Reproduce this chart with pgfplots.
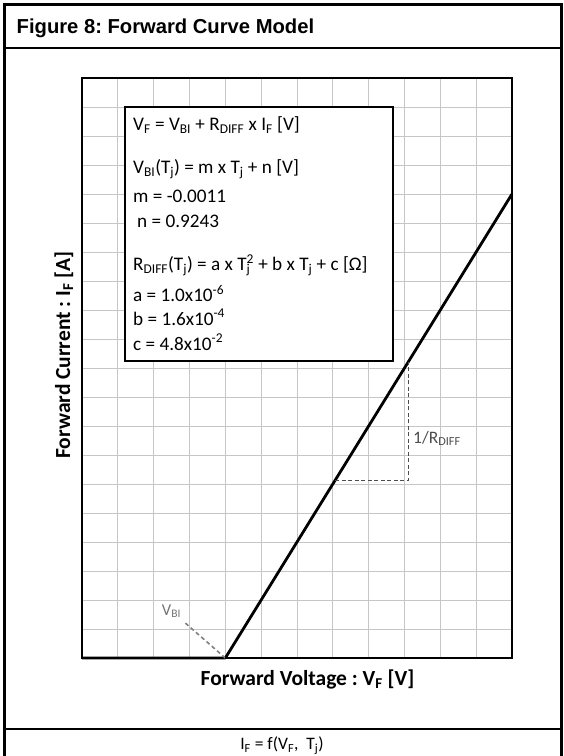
\documentclass[border=0pt]{standalone}
\usepackage{fontspec}
\setmainfont{Carlito}
\newfontfamily\titlefont{Liberation Sans}
\usepackage{pgfplots}
\pgfplotsset{compat=1.18}

\definecolor{gridgray}{HTML}{C6C6C6}
\definecolor{annot}{HTML}{4D4D4D}
\definecolor{vbigray}{HTML}{808080}
\newcommand{\sub}[1]{\textsubscript{#1}}
\newcommand{\sups}[1]{\textsuperscript{#1}}
\frenchspacing

\begin{document}
\begin{tikzpicture}
% page is 564 x 756 (1pt = 1px of the reference), y runs downwards in the scopes
\useasboundingbox (0pt,0pt) rectangle (564pt,-756pt);

\begin{axis}[
  at={(82pt,-658pt)}, anchor=south west,
  scale only axis, width=430pt, height=580pt,
  xmin=0, xmax=12, ymin=0, ymax=20,
  xtick={0,...,12}, ytick={0,...,20},
  xticklabels={}, yticklabels={},
  major tick length=0pt,
  grid=major, grid style={gridgray, line width=0.8pt},
  axis line style={black, line width=1.1pt},
  clip=false,
]
% forward curve: zero below V_BI, then linear with slope 1/R_DIFF
\addplot[black, line width=2.8pt, line join=round] coordinates {(0,0) (4,0) (12,16)};
% slope triangle
\addplot[annot, line width=0.9pt, dash pattern=on 4pt off 2.5pt] coordinates {(7.07,6.13) (9.11,6.13) (9.11,10.22)};
% V_BI marker
\addplot[vbigray, line width=1.6pt, dash pattern=on 4pt off 3pt] coordinates {(4,0) (2.87,1.22)};
\draw[black, line width=2pt] (axis cs:4,0) -- (axis cs:12,0);
\end{axis}

\begin{scope}[x=1pt,y=-1pt]
% frame
\draw[line width=2.5pt] (4.5,770) -- (4.5,4.5) -- (561.5,4.5) -- (561.5,770);
\draw[line width=2pt] (4.5,47.7) -- (561.5,47.7);
\draw[line width=2pt] (4.5,728.5) -- (561.5,728.5);
\node[anchor=base west, inner sep=0pt, font=\titlefont\bfseries\fontsize{20.2}{24}\selectfont]
  at (16.5,33) {Figure 8: Forward Curve Model};

% axis titles
\node[anchor=base, inner sep=0pt, font=\bfseries\fontsize{21.5}{24}\selectfont]
  at (307.5,685) {Forward Voltage : V\sub{F} [V]};
\node[rotate=90, anchor=base, inner sep=0pt, font=\bfseries\fontsize{21.5}{24}\selectfont]
  at (70,355) {Forward Current : I\sub{F} [A]};

% annotations
\node[anchor=base west, inner sep=0pt, text=annot, font=\fontsize{17.5}{21}\selectfont]
  at (413,443) {1/R\sub{DIFF}};
\node[anchor=base west, inner sep=0pt, text=vbigray!90!black, font=\fontsize{16.5}{20}\selectfont]
  at (161.7,615) {V\sub{BI}};

% model box
\draw[fill=white, line width=1.2pt] (125,107) rectangle (393,361);
\begin{scope}[every node/.style={anchor=base west, inner sep=0pt, font=\fontsize{19.2}{23}\selectfont}]
\node at (133,130.7) {V\sub{F} = V\sub{BI} + R\sub{DIFF} x I\sub{F} [V]};
\node at (133,173.3) {V\sub{BI}(T\sub{j}) = m x T\sub{j} + n [V]};
\node at (133,202.7) {m = -0.0011};
\node at (137,227.7) {n = 0.9243};
\node at (133,270.7) {R\sub{DIFF}(T\sub{j}) = a x T\rlap{\sub{j}}\sups{2} + b x T\sub{j} + c [Ω]};
\node at (133,301.7) {a = 1.0x10\sups{-6}};
\node at (133,325) {b = 1.6x10\sups{-4}};
\node at (133,350) {c = 4.8x10\sups{-2}};
\end{scope}

\node[anchor=base, inner sep=0pt, font=\fontsize{17.5}{21}\selectfont]
  at (282,749.5) {I\sub{F} = f(V\sub{F},\ \ T\sub{j})};
\end{scope}
\end{tikzpicture}
\end{document}
